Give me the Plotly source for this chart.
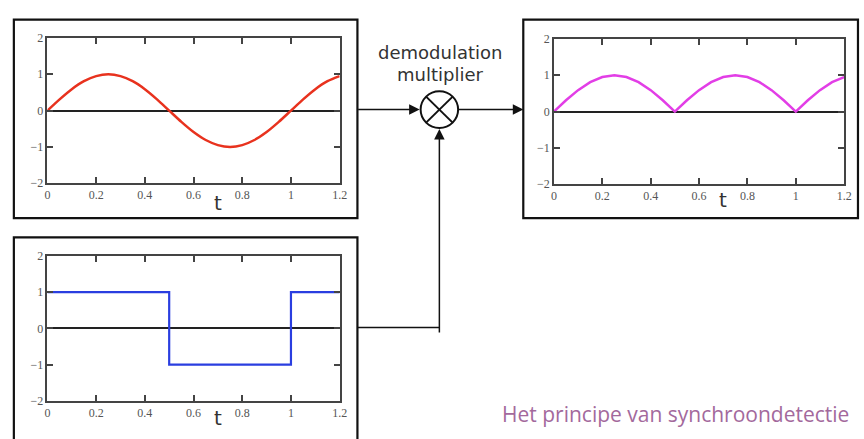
import plotly.graph_objects as go

# ---- data ----
t_vals = [0.0, 0.05, 0.1, 0.15, 0.2, 0.25, 0.3, 0.35, 0.4, 0.45, 0.5, 0.55, 0.6,
          0.65, 0.7, 0.75, 0.8, 0.85, 0.9, 0.95, 1.0, 1.05, 1.1, 1.15, 1.2]
signal_vals = [0.0, 0.31, 0.59, 0.81, 0.95, 1.0, 0.95, 0.81, 0.59, 0.31, 0.0, -0.31, -0.59,
               -0.81, -0.95, -1.0, -0.95, -0.81, -0.59, -0.31, 0.0, 0.31, 0.59, 0.81, 0.95]
ref_t = [0.0, 0.5, 0.5, 1.0, 1.0, 1.2]
ref_vals = [1, 1, -1, -1, 1, 1]
out_vals = [0.0, 0.31, 0.59, 0.81, 0.95, 1.0, 0.95, 0.81, 0.59, 0.31, 0.0, 0.31, 0.59,
            0.81, 0.95, 1.0, 0.95, 0.81, 0.59, 0.31, 0.0, 0.31, 0.59, 0.81, 0.95]
x_ticks = [0, 0.2, 0.4, 0.6, 0.8, 1.0, 1.2]
x_tick_labels = ["0", "0.2", "0.4", "0.6", "0.8", "1", "1.2"]
y_ticks = [-2, -1, 0, 1, 2]
y_tick_labels = ["\u22122", "\u22121", "0", "1", "2"]
label_top = "demodulation"
label_bottom = "multiplier"
caption = "Het principe van synchroondetectie"

W, H = 864, 439
def px(x):
    return x / W
def py(y):
    return 1 - y / H

fig = go.Figure()
fig.add_trace(go.Scatter(x=t_vals, y=signal_vals, mode="lines", line=dict(color="#e8321e", width=2.5, shape="spline", smoothing=0.8), xaxis="x", yaxis="y", showlegend=False))
fig.add_trace(go.Scatter(x=ref_t, y=ref_vals, mode="lines", line=dict(color="#2a3ee0", width=2.2), xaxis="x2", yaxis="y2", showlegend=False))
fig.add_trace(go.Scatter(x=t_vals, y=out_vals, mode="lines", line=dict(color="#e23ee6", width=2.5), xaxis="x3", yaxis="y3", showlegend=False))

tickfont = dict(family="Liberation Serif", size=12, color="#555555")
def xax(domain, anchor):
    return dict(domain=domain, anchor=anchor, range=[0, 1.2], tickvals=x_ticks, ticktext=x_tick_labels,
                ticks="inside", ticklen=6, tickwidth=1.5, tickcolor="#444", mirror="ticks",
                showline=True, linecolor="#444", linewidth=1.5, showgrid=False, zeroline=False,
                tickfont=tickfont, fixedrange=True)
def yax(domain, anchor):
    return dict(domain=domain, anchor=anchor, range=[-2, 2], tickvals=y_ticks, ticktext=y_tick_labels,
                ticks="inside", ticklen=6, tickwidth=1.5, tickcolor="#444", mirror="ticks",
                showline=True, linecolor="#444", linewidth=1.5, showgrid=False,
                zeroline=True, zerolinecolor="#222", zerolinewidth=1.5,
                tickfont=tickfont, fixedrange=True)

fig.update_layout(
    width=W, height=H, autosize=False, margin=dict(l=0, r=0, t=0, b=0),
    paper_bgcolor="white", plot_bgcolor="white",
    xaxis=xax([px(45), px(341)], "y"), yaxis=yax([py(182), py(32)], "x"),
    xaxis2=xax([px(45), px(341)], "y2"), yaxis2=yax([py(407), py(257)], "x2"),
    xaxis3=xax([px(558), px(852)], "y3"), yaxis3=yax([py(183), py(33)], "x3"),
)

shapes = []
def rect(x0, y0, x1, y1):
    shapes.append(dict(type="rect", xref="paper", yref="paper", x0=px(x0), x1=px(x1), y0=py(y1), y1=py(y0),
                       line=dict(color="#111", width=2.2), layer="above"))
def line(x0, y0, x1, y1, w=1.5):
    shapes.append(dict(type="line", xref="paper", yref="paper", x0=px(x0), x1=px(x1), y0=py(y0), y1=py(y1),
                       line=dict(color="#111", width=w)))
rect(11, 13, 359, 218)
rect(11, 238, 359, 450)
rect(527, 13, 866, 218)
cx, cy, r = 442, 106, 19
shapes.append(dict(type="circle", xref="paper", yref="paper", x0=px(cx - r), x1=px(cx + r), y0=py(cy + r), y1=py(cy - r),
                   line=dict(color="#111", width=2)))
d = r * 0.707
line(cx - d, cy - d, cx + d, cy + d, 2)
line(cx - d, cy + d, cx + d, cy - d, 2)
line(359, 331, 442, 331)
fig.update_layout(shapes=shapes)

ann = []
def arrow(x_tip, y_tip, dx, dy):
    ann.append(dict(x=px(x_tip), y=py(y_tip), xref="paper", yref="paper", ax=dx, ay=dy, text="",
                    showarrow=True, arrowhead=2, arrowsize=1.4, arrowwidth=1.5, arrowcolor="#111"))
arrow(cx - r - 1, 106, -(cx - r - 1 - 359), 0)
arrow(527, 106, -(527 - (cx + r)), 0)
arrow(cx, cy + r + 1, 0, 331 - (cy + r + 1))

def text(x, y, s, size, color, family, xanchor="center"):
    ann.append(dict(x=px(x), y=py(y), xref="paper", yref="paper", text=s, showarrow=False,
                    xanchor=xanchor, yanchor="middle", font=dict(size=size, color=color, family=family)))
text(443, 47, label_top, 18, "#333333", "DejaVu Sans")
text(443, 70, label_bottom, 18, "#333333", "DejaVu Sans")
text(218, 202, "t", 20, "#333333", "DejaVu Sans")
text(218, 425, "t", 20, "#333333", "DejaVu Sans")
text(729, 199, "t", 20, "#333333", "DejaVu Sans")
text(859, 420, caption, 21, "#a3699c", "Open Sans", xanchor="right")
fig.update_layout(annotations=ann)

fig.write_html("out.html", config={"displayModeBar": False},
               post_script="document.body.style.margin='0';document.body.style.overflow='hidden';")
